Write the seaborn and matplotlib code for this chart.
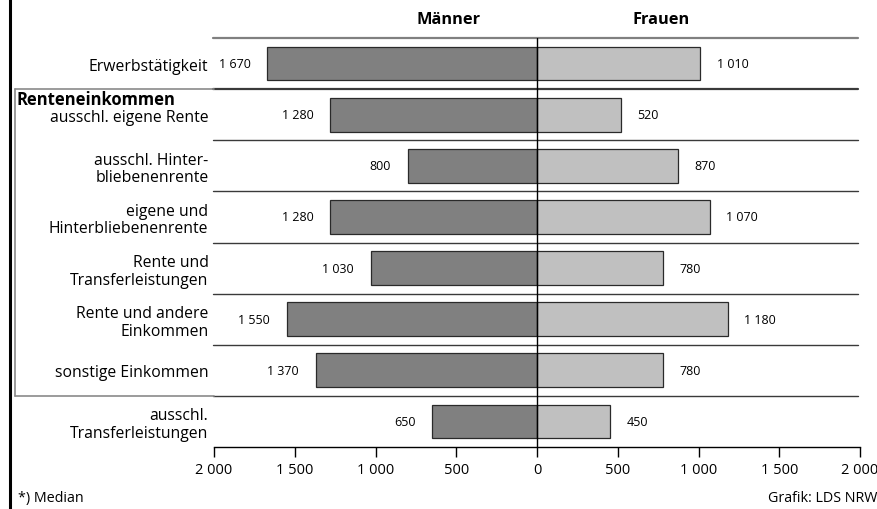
import seaborn as sns
import matplotlib.pyplot as plt
import pandas as pd
import matplotlib.ticker as ticker
from matplotlib.lines import Line2D

# Werte (Median in EUR)
kategorien = [
    "Erwerbstätigkeit",
    "ausschl. eigene Rente",
    "ausschl. Hinter-\nbliebenenrente",
    "eigene und\nHinterbliebenenrente",
    "Rente und\nTransferleistungen",
    "Rente und andere\nEinkommen",
    "sonstige Einkommen",
    "ausschl.\nTransferleistungen",
]
maenner = [1670, 1280, 800, 1280, 1030, 1550, 1370, 650]
frauen = [1010, 520, 870, 1070, 780, 1180, 780, 450]
x_ticks = [-2000, -1500, -1000, -500, 0, 500, 1000, 1500, 2000]


def format_thousands(value, pos=None):
    return f"{abs(int(round(value))):,}".replace(",", " ")


df = pd.DataFrame(
    {
        "Kategorie": kategorien * 2,
        "Wert": [-v for v in maenner] + frauen,
        "Geschlecht": ["Männer"] * len(maenner) + ["Frauen"] * len(frauen),
    }
)

sns.set_style("white")
plt.rcParams["font.family"] = ["Open Sans", "DejaVu Sans"]
plt.rcParams["text.color"] = "black"
plt.rcParams["xtick.color"] = "black"
plt.rcParams["ytick.color"] = "black"

W, H = 877, 510
fig = plt.figure(figsize=(W / 100, H / 100), dpi=100)
ax = fig.add_axes([214 / W, 1 - 448 / H, (860 - 214) / W, 409 / H])

sns.barplot(
    data=df,
    y="Kategorie",
    x="Wert",
    hue="Geschlecht",
    dodge=False,
    orient="h",
    palette={"Männer": "#808080", "Frauen": "#c0c0c0"},
    width=0.66,
    edgecolor="#2a2a2a",
    linewidth=0.9,
    errorbar=None,
    legend=False,
    ax=ax,
)

ax.set_xlim(-2000, 2000)
ax.set_ylim(len(kategorien) - 0.5, -0.5)
ax.set_xlabel("")
ax.set_ylabel("")
ax.set_xticks(x_ticks)
ax.xaxis.set_major_formatter(ticker.FuncFormatter(format_thousands))
ax.tick_params(axis="x", direction="out", length=7, width=1, color="black",
               labelcolor="black", labelsize=10.5, pad=4, bottom=True)
ax.tick_params(axis="y", length=0, pad=4, labelsize=11.3, labelcolor="black")
for lbl in ax.get_yticklabels():
    lbl.set_linespacing(1.12)

for side in ["top", "right", "left"]:
    ax.spines[side].set_visible(False)
ax.spines["bottom"].set_color("black")
ax.spines["bottom"].set_linewidth(1)

# Trennlinien zwischen den Zeilen
for i in range(len(kategorien)):
    ax.axhline(i - 0.5, color="#808080" if i == 0 else "#3a3a3a",
               lw=1.6 if i < 2 else 1.0, xmin=-0.002, xmax=0.997,
               clip_on=False, zorder=1)
ax.axvline(0, color="black", lw=1, zorder=5)

# Wertbeschriftungen
for i, (m, f) in enumerate(zip(maenner, frauen)):
    ax.annotate(format_thousands(m), (-m, i), xytext=(-12, 0),
                textcoords="offset points", ha="right", va="center", fontsize=9)
    ax.annotate(format_thousands(f), (f, i), xytext=(12, 0),
                textcoords="offset points", ha="left", va="center", fontsize=9)

# Kopfzeile
fig.text(449 / W, 1 - 20 / H, "Männer", ha="center", va="center",
         fontsize=11.8, fontweight="bold")
fig.text(661 / W, 1 - 20 / H, "Frauen", ha="center", va="center",
         fontsize=11.8, fontweight="bold")

# Kasten um Renteneinkommen
fig.text(16 / W, 1 - 100 / H, "Renteneinkommen", ha="left", va="center",
         fontsize=12, fontweight="bold")
box_col = "#8a8a8a"
fig.add_artist(Line2D([15 / W, 15 / W], [1 - 90 / H, 1 - 397 / H],
                      color=box_col, lw=1.2))
fig.add_artist(Line2D([15 / W, 214 / W], [1 - 90 / H, 1 - 90 / H],
                      color=box_col, lw=1.2))
fig.add_artist(Line2D([15 / W, 214 / W], [1 - 397 / H, 1 - 397 / H],
                      color=box_col, lw=1.2))

# linker Rand
fig.add_artist(Line2D([9.5 / W, 9.5 / W], [0, 1], color="black", lw=2.2))

# Fußzeile
fig.text(18 / W, 1 - 499 / H, "*) Median", ha="left", va="center", fontsize=10.3)
fig.text(1.0, 1 - 499 / H, "Grafik: LDS NRW", ha="right", va="center",
         fontsize=10.3)

fig.savefig("out.png", dpi=100)
